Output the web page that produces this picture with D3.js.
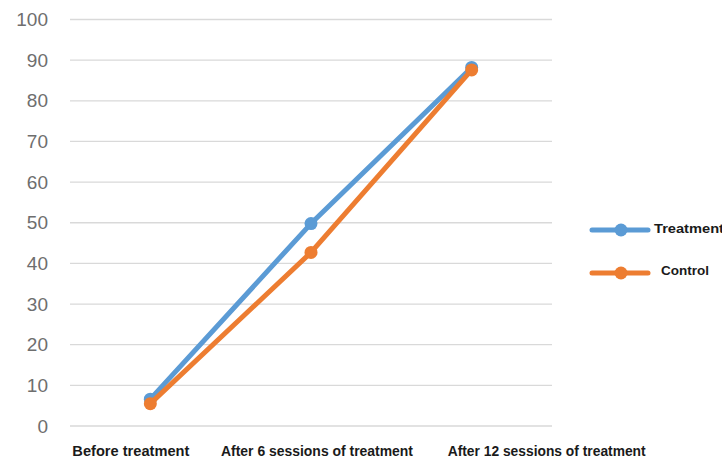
<!DOCTYPE html>
<html>
<head>
<meta charset="utf-8">
<script src="https://cdn.jsdelivr.net/npm/d3@7"></script>
<style>
  html, body { margin: 0; padding: 0; background: #fff; }
  svg { display: block; }
</style>
</head>
<body>
<svg id="chart" width="722" height="460"></svg>
<script>
// Data
const categories = ["Before treatment", "After 6 sessions of treatment", "After 12 sessions of treatment"];
const treatment = [6.6, 49.8, 88.2];
const control = [5.5, 42.7, 87.6];
const yTicks = [0, 10, 20, 30, 40, 50, 60, 70, 80, 90, 100];
const seriesNames = ["Treatment", "Control"];

const colors = { Treatment: "#5B9BD5", Control: "#ED7D31" };
const series = [
  { name: seriesNames[0], values: treatment },
  { name: seriesNames[1], values: control }
];

const svg = d3.select("#chart");
const plot = { left: 70, right: 552, top: 19.5, bottom: 426 };

const x = d3.scaleBand().domain(categories).range([plot.left, plot.right]);
const y = d3.scaleLinear().domain([0, 100]).range([plot.bottom, plot.top]);
const cx = c => x(c) + x.bandwidth() / 2;

// Gridlines
svg.append("g")
  .selectAll("line")
  .data(yTicks)
  .join("line")
  .attr("x1", plot.left).attr("x2", plot.right)
  .attr("y1", d => y(d)).attr("y2", d => y(d))
  .attr("stroke", "#d9d9d9").attr("stroke-width", 1.3);

// Y axis labels
const yAxis = svg.append("g")
  .attr("transform", `translate(${plot.left - 22},0)`)
  .call(d3.axisLeft(y).tickValues(yTicks).tickSize(0).tickPadding(0));
yAxis.select(".domain").remove();
yAxis.selectAll("text")
  .attr("font-family", "Liberation Sans, Arial, sans-serif")
  .attr("font-size", 19)
  .attr("fill", "#6e6e6e");

// Category labels (left edges and widths of each label)
const labelShift = [-78, -90, -24];
const labelWidth = [117, 192, 198];
svg.append("g")
  .selectAll("text")
  .data(categories)
  .join("text")
  .attr("x", (d, i) => cx(d) + labelShift[i])
  .attr("y", 456)
  .attr("textLength", (d, i) => labelWidth[i])
  .attr("lengthAdjust", "spacingAndGlyphs")
  .attr("font-family", "Liberation Sans, Arial, sans-serif")
  .attr("font-weight", "bold")
  .attr("font-size", 15)
  .attr("fill", "#1a1a1a")
  .text(d => d);

// Lines and markers
const line = d3.line()
  .x((d, i) => cx(categories[i]))
  .y(d => y(d));

const sg = svg.append("g")
  .selectAll("g")
  .data(series)
  .join("g");

sg.append("path")
  .attr("d", d => line(d.values))
  .attr("fill", "none")
  .attr("stroke", d => colors[d.name])
  .attr("stroke-width", 5)
  .attr("stroke-linejoin", "round")
  .attr("stroke-linecap", "round");

sg.selectAll("circle")
  .data(d => d.values.map((v, i) => ({ v, i, name: d.name })))
  .join("circle")
  .attr("cx", d => cx(categories[d.i]))
  .attr("cy", d => y(d.v))
  .attr("r", 6.5)
  .attr("fill", d => colors[d.name]);

// Legend
const legend = svg.append("g")
  .selectAll("g")
  .data(seriesNames)
  .join("g")
  .attr("transform", (d, i) => `translate(592,${230 + i * 43})`);

legend.append("line")
  .attr("x1", 0).attr("x2", 56)
  .attr("stroke", d => colors[d])
  .attr("stroke-width", 5)
  .attr("stroke-linecap", "round");
legend.append("circle")
  .attr("cx", 29).attr("r", 6.5)
  .attr("fill", d => colors[d]);
legend.append("text")
  .attr("x", (d, i) => i === 0 ? 62 : 69)
  .attr("y", (d, i) => i === 0 ? 3 : 2)
  .attr("textLength", (d, i) => i === 0 ? 70 : 48)
  .attr("lengthAdjust", "spacingAndGlyphs")
  .attr("font-family", "Liberation Sans, Arial, sans-serif")
  .attr("font-weight", "bold")
  .attr("font-size", 13.5)
  .attr("fill", "#1a1a1a")
  .text(d => d);
</script>
</body>
</html>
